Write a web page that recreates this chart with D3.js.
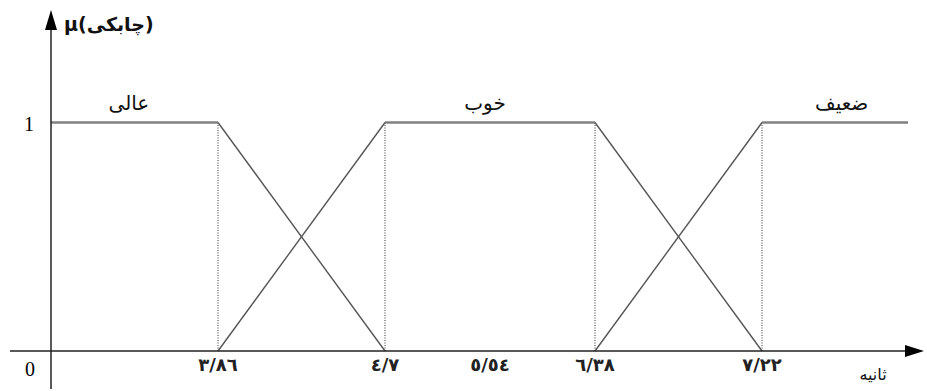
<!DOCTYPE html>
<html>
<head>
<meta charset="utf-8">
<script src="https://cdn.jsdelivr.net/npm/d3@7"></script>
<style>
  body { margin: 0; background: #fff; }
</style>
</head>
<body>
<script>
// Breakpoints on the time axis (seconds) and their Persian labels
var breakpoints = [3.86, 4.7, 5.54, 6.38, 7.22];
var tickLabels = ["٣/٨٦", "٤/٧", "٥/٥٤", "٦/٣٨", "٧/٢٢"];

// Membership functions: [x, mu] corner points
var setNames = ["عالی", "خوب", "ضعیف"];
var setLabelAt = [1.8, 5.5, 7.7];
var excellent = [[0, 1], [3.86, 1], [4.7, 0]];
var good = [[3.86, 0], [4.7, 1], [6.38, 1], [7.22, 0]];
var weak = [[6.38, 0], [7.22, 1], [8.1, 1]];
var dottedAt = [3.86, 4.7, 6.38, 7.22];

var width = 927, height = 391;

var svg = d3.select("body").append("svg")
    .attr("width", width)
    .attr("height", height);

// Drawing is not to scale: middle segment is squeezed, so use a polylinear scale
var x = d3.scaleLinear()
    .domain([0, 3.86, 4.7, 5.54, 6.38, 7.22, 8.1])
    .range([51, 218, 385, 490, 595, 762, 908]);

var y = d3.scaleLinear()
    .domain([0, 1])
    .range([351, 122.5]);

// Dotted guides from each corner down to the axis
svg.selectAll("line.guide")
    .data(dottedAt)
    .enter().append("line")
    .attr("class", "guide")
    .attr("x1", function(d) { return x(d); })
    .attr("x2", function(d) { return x(d); })
    .attr("y1", y(1))
    .attr("y2", y(0))
    .attr("stroke", "#333")
    .attr("stroke-width", 1)
    .attr("stroke-dasharray", "1,1.5");

// Membership curves
var line = d3.line()
    .x(function(d) { return x(d[0]); })
    .y(function(d) { return y(d[1]); });

[excellent, good, weak].forEach(function(pts) {
    // flat parts thicker and lighter, slopes thin
    for (var i = 0; i < pts.length - 1; i++) {
        var a = pts[i], b = pts[i + 1];
        var flat = a[1] === b[1];
        svg.append("path")
            .attr("d", line([a, b]))
            .attr("fill", "none")
            .attr("stroke", flat ? "#808080" : "#555")
            .attr("stroke-width", flat ? 2.6 : 1.4);
    }
});

// Axes
var axisColor = "#222";
svg.append("line")
    .attr("x1", 10).attr("x2", 910)
    .attr("y1", y(0)).attr("y2", y(0))
    .attr("stroke", axisColor).attr("stroke-width", 1.5);
svg.append("path")
    .attr("d", "M905," + (y(0) - 6) + "L924," + y(0) + "L905," + (y(0) + 6) + "Z")
    .attr("fill", "#000");

svg.append("line")
    .attr("x1", x(0)).attr("x2", x(0))
    .attr("y1", 25).attr("y2", 389)
    .attr("stroke", axisColor).attr("stroke-width", 1.5);
svg.append("path")
    .attr("d", "M" + (x(0) - 6) + ",30L" + x(0) + ",10L" + (x(0) + 6) + ",30Z")
    .attr("fill", "#000");

// Tick labels under the axis
svg.selectAll("text.tick")
    .data(breakpoints)
    .enter().append("text")
    .attr("class", "tick")
    .attr("x", function(d) { return x(d); })
    .attr("y", 371)
    .attr("text-anchor", "middle")
    .attr("font-family", "DejaVu Sans")
    .attr("font-weight", "bold")
    .attr("font-size", 18)
    .attr("fill", "#222")
    .text(function(d, i) { return tickLabels[i]; });

// Origin and 1 labels
svg.append("text")
    .attr("x", 30).attr("y", 376)
    .attr("text-anchor", "middle")
    .attr("font-family", "Liberation Serif")
    .attr("font-size", 20)
    .text("0");
svg.append("text")
    .attr("x", 29).attr("y", y(1) + 8)
    .attr("text-anchor", "middle")
    .attr("font-family", "Liberation Serif")
    .attr("font-size", 20)
    .text("1");

// Set names above plateaus
svg.selectAll("text.set")
    .data(setNames)
    .enter().append("text")
    .attr("class", "set")
    .attr("x", function(d, i) { return x(setLabelAt[i]); })
    .attr("y", 110)
    .attr("text-anchor", "middle")
    .attr("font-family", "DejaVu Sans")
    .attr("font-size", 20)
    .attr("fill", "#111")
    .text(function(d) { return d; });

// Axis titles
svg.append("text")
    .attr("x", 64).attr("y", 31)
    .attr("font-family", "DejaVu Sans")
    .attr("font-weight", "bold")
    .attr("font-size", 19)
    .attr("fill", "#111")
    .text("μ(چابکی)");

svg.append("text")
    .attr("x", 873).attr("y", 380)
    .attr("text-anchor", "middle")
    .attr("font-family", "DejaVu Sans")
    .attr("font-size", 16)
    .attr("fill", "#111")
    .text("ثانیه");
</script>
</body>
</html>
